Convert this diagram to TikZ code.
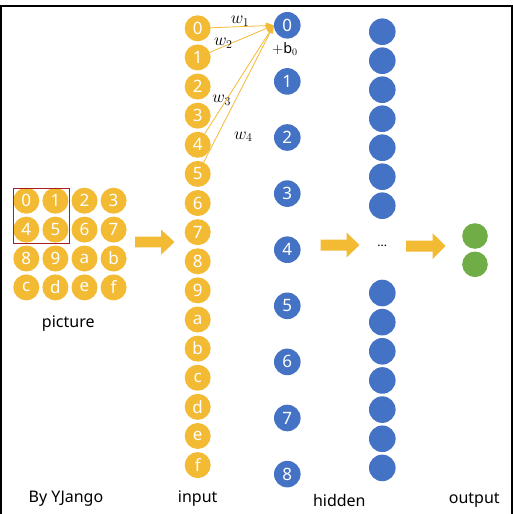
\documentclass[tikz,border=0pt]{standalone}
\usepackage{fontspec}
\setmainfont{Noto Sans}
\usetikzlibrary{arrows.meta}
\definecolor{gold}{RGB}{243,186,52}
\definecolor{nnblue}{RGB}{68,114,196}
\definecolor{nngreen}{RGB}{112,173,71}
\definecolor{boxred}{RGB}{165,30,35}
\tikzset{
  dot/.style={circle,inner sep=0pt,minimum size=26pt,text=white,font=\fontsize{17}{19}\selectfont},
  ynode/.style={dot,fill=gold},
  bnode/.style={dot,fill=nnblue,minimum size=26.6pt},
  gnode/.style={dot,fill=nngreen,minimum size=25.6pt},
  lbl/.style={inner sep=0pt,font=\fontsize{16}{18}\selectfont},
  wlbl/.style={inner sep=0pt,font=\fontsize{17.28}{20}\selectfont},
  blbl/.style={inner sep=0pt,font=\fontsize{14.4}{17}\selectfont},
  wline/.style={draw=gold,line width=0.8pt,-{Triangle[length=8pt,width=6pt]}},
  bigarrow/.style={fill=gold}
}
\begin{document}
\begin{tikzpicture}[x=1pt,y=-1pt]
\useasboundingbox (0,0) rectangle (513,514);
% frame
\draw[line width=1.2pt] (1,514) -- (1,6) -- (512,6) -- (512,514);
% picture grid
\foreach \t [count=\k from 0] in {0,1,2,3,4,5,6,7,8,9,a,b,c,d,e,f}{
  \pgfmathtruncatemacro{\cc}{mod(\k,4)}
  \pgfmathtruncatemacro{\rr}{int(\k/4)}
  \node[ynode] (p\k) at ({26.3+29.1*\cc},{200.7+28.9*\rr}) {\t};
}
\draw[boxred,line width=1pt] (13.3,188.7) rectangle (69.3,243.3);
\node[lbl] (picl) at (68.3,324) {picture};
% input column
\foreach \t [count=\k from 0] in {0,1,2,3,4,5,6,7,8,9,a,b,c,d,e,f}{
  \node[ynode] (in\k) at (197.7,{28.3+29.12*\k}) {\t};
}
% hidden layer 1
\foreach \k in {0,...,8}{
  \node[bnode] (h\k) at (287.3,{25.3+56.1*\k}) {\k};
}
% hidden layer 2
\foreach \k in {0,...,6}{
  \node[bnode] (ha\k) at (382.3,{31.7+29*\k}) {};
  \node[bnode] (hb\k) at (382.3,{293+29.15*\k}) {};
}
\node[inner sep=0pt,font=\fontsize{12}{14}\selectfont] (dots) at (382.3,246) {...};
% output
\node[gnode] (o1) at (475,236) {};
\node[gnode] (o2) at (475,264.3) {};
% weights
\draw[wline] (in0) -- (h0.west);
\draw[wline] (in1) -- (h0.west);
\draw[wline] (in4) -- (h0.west);
\draw[wline] (in5) -- (h0.west);
\node[wlbl] (w1) at (240,21) {$w_1$};
\node[wlbl] (w2) at (223.3,43.3) {$w_2$};
\node[wlbl] (w3) at (221.7,100) {$w_3$};
\node[wlbl] (w4) at (243.3,136.7) {$w_4$};
\node[blbl] (b0) at (285,48.7) {$+\mathrm{b}_0$};
% big arrows
\fill[bigarrow] (135,236.7) -- (161,236.7) -- (161,229.5) -- (174.5,242) -- (161,254.8) -- (161,247.3) -- (135,247.3) -- cycle;
\fill[bigarrow] (320.7,239.5) -- (346.7,239.5) -- (346.7,232.7) -- (359.5,245) -- (346.7,257.3) -- (346.7,250.5) -- (320.7,250.5) -- cycle;
\fill[bigarrow] (406,240.5) -- (432.7,240.5) -- (432.7,233.3) -- (445.7,246) -- (432.7,259) -- (432.7,251.5) -- (406,251.5) -- cycle;
% bottom labels
\node[lbl] (by) at (66,499) {By YJango};
\node[lbl] (inl) at (197.7,499) {input};
\node[lbl] (hidl) at (339.3,500) {hidden};
\node[lbl] (outl) at (474.3,500) {output};
\end{tikzpicture}
\end{document}
